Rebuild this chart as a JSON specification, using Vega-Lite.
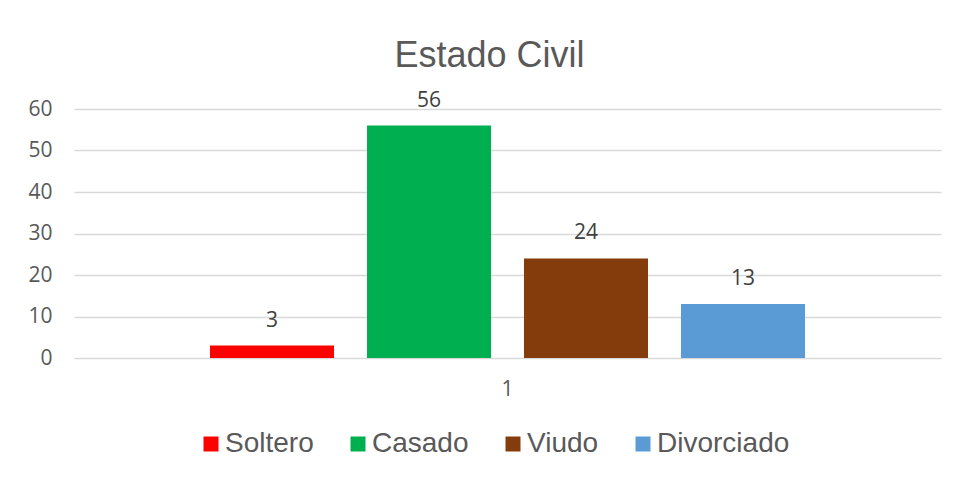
{
  "$schema": "https://vega.github.io/schema/vega-lite/v6.json",
  "autosize": "none",
  "width": 867,
  "height": 249,
  "padding": {"left": 74, "top": 109, "right": 14, "bottom": 119},
  "background": "white",
  "title": {
    "text": "Estado Civil",
    "font": "Liberation Sans",
    "fontSize": 36,
    "fontWeight": "normal",
    "color": "#595959",
    "anchor": "middle",
    "dx": -18,
    "dy": 55,
    "baseline": "alphabetic",
    "offset": 42
  },
  "data": {
    "values": [
      {"grupo": "1", "estado": "Soltero", "valor": 3},
      {"grupo": "1", "estado": "Casado", "valor": 56},
      {"grupo": "1", "estado": "Viudo", "valor": 24},
      {"grupo": "1", "estado": "Divorciado", "valor": 13}
    ]
  },
  "encoding": {
    "x": {
      "field": "grupo",
      "type": "nominal",
      "scale": {"paddingInner": 0, "paddingOuter": 0.2286},
      "axis": {
        "title": null,
        "labelAngle": 0,
        "ticks": false,
        "domain": false,
        "labelPadding": 20,
        "labelFont": "Open Sans",
        "labelFontSize": 21,
        "labelColor": "#595959"
      }
    },
    "xOffset": {
      "field": "estado",
      "type": "nominal",
      "sort": ["Soltero", "Casado", "Viudo", "Divorciado"],
      "scale": {"paddingInner": 0.21, "paddingOuter": 0}
    },
    "y": {
      "field": "valor",
      "type": "quantitative",
      "scale": {"domain": [0, 60]},
      "axis": {
        "title": null,
        "values": [0, 10, 20, 30, 40, 50, 60],
        "ticks": false,
        "domain": false,
        "labelPadding": 22,
        "labelFont": "Open Sans",
        "labelFontSize": 21,
        "labelColor": "#595959",
        "gridColor": "#d9d9d9",
        "gridWidth": 1.4
      }
    }
  },
  "layer": [
    {
      "mark": {"type": "bar"},
      "encoding": {
        "color": {
          "field": "estado",
          "type": "nominal",
          "scale": {
            "domain": ["Soltero", "Casado", "Viudo", "Divorciado"],
            "range": ["#FF0000", "#00B050", "#843C0C", "#5B9BD5"]
          },
          "legend": {
            "title": null,
            "orient": "none",
            "legendX": 123,
            "legendY": 321,
            "direction": "horizontal",
            "symbolType": "square",
            "symbolSize": 225,
            "symbolStrokeWidth": 0,
            "labelFont": "Liberation Sans",
            "labelFontSize": 28,
            "labelColor": "#595959",
            "labelOffset": 0,
            "columnPadding": 30,
            "padding": 0,
            "labelLimit": 400
          }
        }
      }
    },
    {
      "mark": {
        "type": "text",
        "baseline": "middle",
        "dy": -25,
        "font": "Open Sans",
        "fontSize": 21,
        "color": "#404040"
      },
      "encoding": {
        "text": {"field": "valor", "type": "quantitative"}
      }
    }
  ],
  "config": {
    "view": {"stroke": null}
  }
}
